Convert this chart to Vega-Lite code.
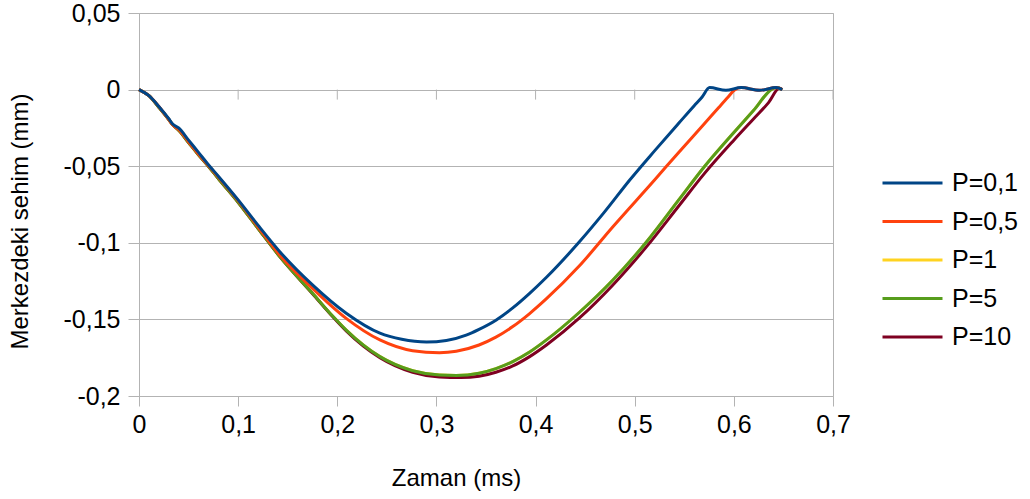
{
  "$schema": "https://vega.github.io/schema/vega-lite/v6.json",
  "width": 694,
  "height": 383,
  "autosize": "none",
  "padding": {"left": 139, "top": 13, "right": 197, "bottom": 103},
  "background": "white",
  "config": {
    "view": {"stroke": "#b3b3b3", "strokeWidth": 1},
    "font": "Liberation Sans"
  },
  "datasets": {
    "curves": [
      {"series": "P=1", "t": 0, "v": 0},
      {"series": "P=1", "t": 0.01, "v": -0.004},
      {"series": "P=1", "t": 0.02, "v": -0.0115},
      {"series": "P=1", "t": 0.03, "v": -0.0195},
      {"series": "P=1", "t": 0.034, "v": -0.023},
      {"series": "P=1", "t": 0.04, "v": -0.0265},
      {"series": "P=1", "t": 0.05, "v": -0.0345},
      {"series": "P=1", "t": 0.06, "v": -0.0425},
      {"series": "P=1", "t": 0.07, "v": -0.05},
      {"series": "P=1", "t": 0.08, "v": -0.058},
      {"series": "P=1", "t": 0.1, "v": -0.0735},
      {"series": "P=1", "t": 0.12, "v": -0.0905},
      {"series": "P=1", "t": 0.142, "v": -0.109},
      {"series": "P=1", "t": 0.175, "v": -0.133},
      {"series": "P=1", "t": 0.1955, "v": -0.148},
      {"series": "P=1", "t": 0.209, "v": -0.157},
      {"series": "P=1", "t": 0.243, "v": -0.1743},
      {"series": "P=1", "t": 0.276, "v": -0.1835},
      {"series": "P=1", "t": 0.303, "v": -0.1863},
      {"series": "P=1", "t": 0.32, "v": -0.1866},
      {"series": "P=1", "t": 0.343, "v": -0.1851},
      {"series": "P=1", "t": 0.36, "v": -0.1821},
      {"series": "P=1", "t": 0.377, "v": -0.1775},
      {"series": "P=1", "t": 0.394, "v": -0.1713},
      {"series": "P=1", "t": 0.411, "v": -0.1634},
      {"series": "P=1", "t": 0.444, "v": -0.1455},
      {"series": "P=1", "t": 0.478, "v": -0.1243},
      {"series": "P=1", "t": 0.512, "v": -0.0993},
      {"series": "P=1", "t": 0.545, "v": -0.0715},
      {"series": "P=1", "t": 0.57, "v": -0.0505},
      {"series": "P=1", "t": 0.6, "v": -0.028},
      {"series": "P=1", "t": 0.62, "v": -0.0135},
      {"series": "P=1", "t": 0.639, "v": 0.0005},
      {"series": "P=1", "t": 0.6427, "v": 0.0013},
      {"series": "P=1", "t": 0.6488, "v": 0},

      {"series": "P=10", "t": 0, "v": 0},
      {"series": "P=10", "t": 0.01, "v": -0.004},
      {"series": "P=10", "t": 0.02, "v": -0.0115},
      {"series": "P=10", "t": 0.03, "v": -0.0195},
      {"series": "P=10", "t": 0.034, "v": -0.023},
      {"series": "P=10", "t": 0.04, "v": -0.0265},
      {"series": "P=10", "t": 0.05, "v": -0.0345},
      {"series": "P=10", "t": 0.06, "v": -0.0425},
      {"series": "P=10", "t": 0.07, "v": -0.05},
      {"series": "P=10", "t": 0.08, "v": -0.058},
      {"series": "P=10", "t": 0.1, "v": -0.0735},
      {"series": "P=10", "t": 0.12, "v": -0.0905},
      {"series": "P=10", "t": 0.142, "v": -0.109},
      {"series": "P=10", "t": 0.175, "v": -0.1332},
      {"series": "P=10", "t": 0.1955, "v": -0.1483},
      {"series": "P=10", "t": 0.209, "v": -0.1575},
      {"series": "P=10", "t": 0.243, "v": -0.175},
      {"series": "P=10", "t": 0.276, "v": -0.1845},
      {"series": "P=10", "t": 0.303, "v": -0.1876},
      {"series": "P=10", "t": 0.325, "v": -0.188},
      {"series": "P=10", "t": 0.343, "v": -0.1871},
      {"series": "P=10", "t": 0.36, "v": -0.1845},
      {"series": "P=10", "t": 0.377, "v": -0.1804},
      {"series": "P=10", "t": 0.394, "v": -0.1743},
      {"series": "P=10", "t": 0.411, "v": -0.1667},
      {"series": "P=10", "t": 0.444, "v": -0.1492},
      {"series": "P=10", "t": 0.478, "v": -0.1275},
      {"series": "P=10", "t": 0.512, "v": -0.1025},
      {"series": "P=10", "t": 0.545, "v": -0.0755},
      {"series": "P=10", "t": 0.57, "v": -0.055},
      {"series": "P=10", "t": 0.6, "v": -0.033},
      {"series": "P=10", "t": 0.62, "v": -0.019},
      {"series": "P=10", "t": 0.635, "v": -0.0085},
      {"series": "P=10", "t": 0.646, "v": 0.0008},
      {"series": "P=10", "t": 0.6488, "v": 0},

      {"series": "P=5", "t": 0, "v": 0},
      {"series": "P=5", "t": 0.01, "v": -0.004},
      {"series": "P=5", "t": 0.02, "v": -0.0115},
      {"series": "P=5", "t": 0.03, "v": -0.0195},
      {"series": "P=5", "t": 0.034, "v": -0.023},
      {"series": "P=5", "t": 0.04, "v": -0.0265},
      {"series": "P=5", "t": 0.05, "v": -0.0345},
      {"series": "P=5", "t": 0.06, "v": -0.0425},
      {"series": "P=5", "t": 0.07, "v": -0.05},
      {"series": "P=5", "t": 0.08, "v": -0.058},
      {"series": "P=5", "t": 0.1, "v": -0.0735},
      {"series": "P=5", "t": 0.12, "v": -0.0905},
      {"series": "P=5", "t": 0.142, "v": -0.109},
      {"series": "P=5", "t": 0.175, "v": -0.133},
      {"series": "P=5", "t": 0.1955, "v": -0.148},
      {"series": "P=5", "t": 0.209, "v": -0.157},
      {"series": "P=5", "t": 0.243, "v": -0.1743},
      {"series": "P=5", "t": 0.276, "v": -0.1835},
      {"series": "P=5", "t": 0.303, "v": -0.1863},
      {"series": "P=5", "t": 0.32, "v": -0.1866},
      {"series": "P=5", "t": 0.343, "v": -0.1851},
      {"series": "P=5", "t": 0.36, "v": -0.1821},
      {"series": "P=5", "t": 0.377, "v": -0.1775},
      {"series": "P=5", "t": 0.394, "v": -0.1713},
      {"series": "P=5", "t": 0.411, "v": -0.1634},
      {"series": "P=5", "t": 0.444, "v": -0.1455},
      {"series": "P=5", "t": 0.478, "v": -0.1243},
      {"series": "P=5", "t": 0.512, "v": -0.0993},
      {"series": "P=5", "t": 0.545, "v": -0.0715},
      {"series": "P=5", "t": 0.57, "v": -0.0505},
      {"series": "P=5", "t": 0.6, "v": -0.028},
      {"series": "P=5", "t": 0.62, "v": -0.0135},
      {"series": "P=5", "t": 0.639, "v": 0.0005},
      {"series": "P=5", "t": 0.6427, "v": 0.0013},
      {"series": "P=5", "t": 0.6488, "v": 0},

      {"series": "P=0,5", "t": 0, "v": 0},
      {"series": "P=0,5", "t": 0.01, "v": -0.004},
      {"series": "P=0,5", "t": 0.02, "v": -0.011},
      {"series": "P=0,5", "t": 0.03, "v": -0.0195},
      {"series": "P=0,5", "t": 0.034, "v": -0.023},
      {"series": "P=0,5", "t": 0.04, "v": -0.026},
      {"series": "P=0,5", "t": 0.05, "v": -0.034},
      {"series": "P=0,5", "t": 0.06, "v": -0.042},
      {"series": "P=0,5", "t": 0.07, "v": -0.0495},
      {"series": "P=0,5", "t": 0.08, "v": -0.057},
      {"series": "P=0,5", "t": 0.1, "v": -0.0725},
      {"series": "P=0,5", "t": 0.12, "v": -0.0895},
      {"series": "P=0,5", "t": 0.142, "v": -0.108},
      {"series": "P=0,5", "t": 0.175, "v": -0.1297},
      {"series": "P=0,5", "t": 0.209, "v": -0.1493},
      {"series": "P=0,5", "t": 0.243, "v": -0.1634},
      {"series": "P=0,5", "t": 0.276, "v": -0.1704},
      {"series": "P=0,5", "t": 0.303, "v": -0.1717},
      {"series": "P=0,5", "t": 0.32, "v": -0.1708},
      {"series": "P=0,5", "t": 0.343, "v": -0.1667},
      {"series": "P=0,5", "t": 0.36, "v": -0.1616},
      {"series": "P=0,5", "t": 0.377, "v": -0.1547},
      {"series": "P=0,5", "t": 0.394, "v": -0.1462},
      {"series": "P=0,5", "t": 0.411, "v": -0.1365},
      {"series": "P=0,5", "t": 0.444, "v": -0.1152},
      {"series": "P=0,5", "t": 0.478, "v": -0.0895},
      {"series": "P=0,5", "t": 0.52, "v": -0.059},
      {"series": "P=0,5", "t": 0.545, "v": -0.0405},
      {"series": "P=0,5", "t": 0.57, "v": -0.0225},
      {"series": "P=0,5", "t": 0.585, "v": -0.0115},
      {"series": "P=0,5", "t": 0.594, "v": -0.005},
      {"series": "P=0,5", "t": 0.6007, "v": -0.0003},
      {"series": "P=0,5", "t": 0.6074, "v": 0.0013},
      {"series": "P=0,5", "t": 0.6259, "v": -0.0005},
      {"series": "P=0,5", "t": 0.6427, "v": 0.0013},
      {"series": "P=0,5", "t": 0.6488, "v": 0},

      {"series": "P=0,1", "t": 0, "v": 0},
      {"series": "P=0,1", "t": 0.01, "v": -0.004},
      {"series": "P=0,1", "t": 0.02, "v": -0.011},
      {"series": "P=0,1", "t": 0.03, "v": -0.019},
      {"series": "P=0,1", "t": 0.034, "v": -0.0225},
      {"series": "P=0,1", "t": 0.04, "v": -0.025},
      {"series": "P=0,1", "t": 0.05, "v": -0.033},
      {"series": "P=0,1", "t": 0.06, "v": -0.041},
      {"series": "P=0,1", "t": 0.07, "v": -0.049},
      {"series": "P=0,1", "t": 0.08, "v": -0.0565},
      {"series": "P=0,1", "t": 0.1, "v": -0.072},
      {"series": "P=0,1", "t": 0.12, "v": -0.0885},
      {"series": "P=0,1", "t": 0.142, "v": -0.1058},
      {"series": "P=0,1", "t": 0.175, "v": -0.1275},
      {"series": "P=0,1", "t": 0.209, "v": -0.146},
      {"series": "P=0,1", "t": 0.243, "v": -0.159},
      {"series": "P=0,1", "t": 0.265, "v": -0.163},
      {"series": "P=0,1", "t": 0.29, "v": -0.1648},
      {"series": "P=0,1", "t": 0.31, "v": -0.1638},
      {"series": "P=0,1", "t": 0.33, "v": -0.1603},
      {"series": "P=0,1", "t": 0.343, "v": -0.1565},
      {"series": "P=0,1", "t": 0.36, "v": -0.1505},
      {"series": "P=0,1", "t": 0.377, "v": -0.1425},
      {"series": "P=0,1", "t": 0.394, "v": -0.133},
      {"series": "P=0,1", "t": 0.411, "v": -0.1225},
      {"series": "P=0,1", "t": 0.444, "v": -0.0995},
      {"series": "P=0,1", "t": 0.47, "v": -0.0795},
      {"series": "P=0,1", "t": 0.495, "v": -0.059},
      {"series": "P=0,1", "t": 0.52, "v": -0.04},
      {"series": "P=0,1", "t": 0.545, "v": -0.0215},
      {"series": "P=0,1", "t": 0.56, "v": -0.0105},
      {"series": "P=0,1", "t": 0.568, "v": -0.0048},
      {"series": "P=0,1", "t": 0.5755, "v": 0.0013},
      {"series": "P=0,1", "t": 0.592, "v": -0.0005},
      {"series": "P=0,1", "t": 0.6074, "v": 0.0013},
      {"series": "P=0,1", "t": 0.6259, "v": -0.0005},
      {"series": "P=0,1", "t": 0.6427, "v": 0.0013},
      {"series": "P=0,1", "t": 0.6488, "v": 0}
    ],
    "ticks": [
      {"t": 0.1}, {"t": 0.2}, {"t": 0.3}, {"t": 0.4}, {"t": 0.5}, {"t": 0.6}, {"t": 0.7}
    ]
  },
  "layer": [
    {
      "data": {"name": "ticks"},
      "mark": {"type": "rule", "color": "#b3b3b3", "strokeWidth": 1, "y2Offset": 10},
      "encoding": {
        "x": {"field": "t", "type": "quantitative", "scale": {"domain": [0, 0.7], "nice": false}},
        "y": {"datum": 0, "type": "quantitative", "scale": {"domain": [-0.2, 0.05], "nice": false}},
        "y2": {"datum": 0}
      }
    },
    {
      "data": {"name": "curves"},
      "mark": {"type": "line", "strokeWidth": 3, "interpolate": "monotone"},
      "encoding": {
        "x": {
          "field": "t", "type": "quantitative",
          "scale": {"domain": [0, 0.7], "nice": false},
          "axis": {
            "values": [0, 0.1, 0.2, 0.3, 0.4, 0.5, 0.6, 0.7],
            "labelExpr": "replace(toString(datum.value), '.', ',')",
            "labelFlush": false,
            "grid": false, "domain": false,
            "tickColor": "#b3b3b3", "tickSize": 10,
            "labelFontSize": 25, "labelColor": "#000000", "labelPadding": 6,
            "labelFont": "Liberation Sans",
            "title": "Zaman (ms)", "titleFontSize": 24, "titleFontWeight": "normal",
            "titleColor": "#000000", "titleFont": "Liberation Sans",
            "titleX": 317, "titleY": 82, "titleBaseline": "middle"
          }
        },
        "y": {
          "field": "v", "type": "quantitative",
          "scale": {"domain": [-0.2, 0.05], "nice": false},
          "axis": {
            "values": [0.05, 0, -0.05, -0.1, -0.15, -0.2],
            "labelExpr": "replace(toString(datum.value), '.', ',')",
            "grid": true, "gridColor": "#b3b3b3", "gridOpacity": 1,
            "domainColor": "#b3b3b3",
            "tickColor": "#b3b3b3", "tickSize": 11,
            "labelFontSize": 25, "labelColor": "#000000", "labelPadding": 8,
            "labelFont": "Liberation Sans",
            "title": "Merkezdeki sehim (mm)", "titleFontSize": 24, "titleFontWeight": "normal",
            "titleColor": "#000000", "titleFont": "Liberation Sans",
            "titleX": -119, "titleY": 208, "titleAngle": -90,
            "titleAlign": "center", "titleBaseline": "middle"
          }
        },
        "color": {
          "field": "series", "type": "nominal",
          "scale": {
            "domain": ["P=0,1", "P=0,5", "P=1", "P=5", "P=10"],
            "range": ["#004586", "#ff420e", "#ffd320", "#579d1c", "#7e0021"]
          },
          "legend": {
            "title": null, "orient": "none", "legendX": 761, "legendY": 157.5,
            "symbolType": "M-3,0H3", "symbolSize": 400, "symbolStrokeWidth": 3,
            "labelFontSize": 25, "labelFont": "Liberation Sans", "labelColor": "#000000",
            "labelOffset": 27, "rowPadding": 12.5, "padding": 0
          }
        }
      }
    }
  ]
}
